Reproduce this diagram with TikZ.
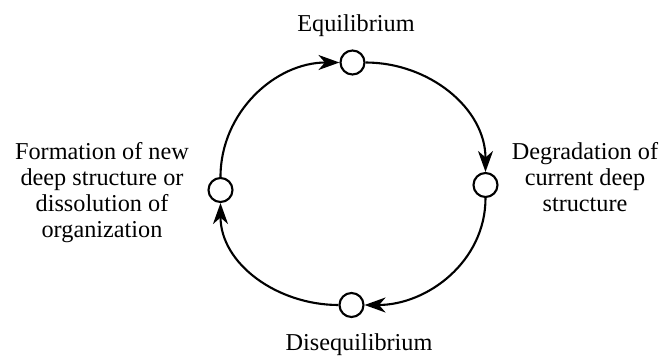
\documentclass[tikz,border=0pt]{standalone}
\usepackage{fontspec}
\setmainfont{Liberation Serif}
\usetikzlibrary{arrows.meta}

\begin{document}
\begin{tikzpicture}[x=1cm,y=1cm, every node/.style={font=\rmfamily\fontsize{13.8}{14.8}\selectfont},
    state/.style={draw, circle, line width=1.2pt, fill=white, minimum size=0.48cm, inner sep=0pt},
    lbl/.style={align=center, inner sep=0pt},
    flow/.style={line width=1.2pt, -{Stealth[length=0.42cm, width=0.3cm, inset=0.13cm]}}]
    \useasboundingbox (0,0) rectangle (13.28,7.10);
    \node[state] (top) at (7.05,5.85) {};
    \node[state] (right) at (9.71,3.40) {};
    \node[state] (bottom) at (7.03,1.00) {};
    \node[state] (left) at (4.41,3.30) {};
    \node[lbl, anchor=base] (equi) at (7.12,6.46) {Equilibrium};
    \node[lbl, anchor=base] (disequi) at (7.18,0.10) {Disequilibrium};
    \node[lbl] (degr) at (11.70,3.56) {Degradation of\\current deep\\structure};
    \node[lbl] (form) at (2.04,3.24) {Formation of new\\deep structure or\\dissolution of\\organization};
    \draw[flow] (left) to[out=90,in=180] (top);
    \draw[flow] (top) to[out=0,in=90] (right);
    \draw[flow] (right) to[out=-90,in=0] (bottom);
    \draw[flow] (bottom) to[out=180,in=-90] (left);
\end{tikzpicture}
\end{document}
